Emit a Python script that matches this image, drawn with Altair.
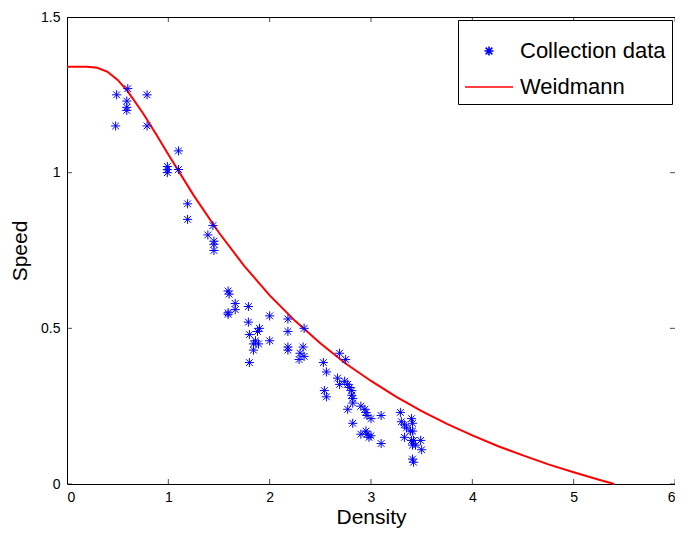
import altair as alt
import pandas as pd

# Collected measurements (density, speed)
density = [0.49, 0.60, 0.59, 0.59, 0.59, 0.79, 0.48, 0.79, 1.10, 0.99, 0.99, 0.99, 1.10, 1.19, 1.19,
           1.44, 1.39, 1.45, 1.45, 1.45, 1.59, 1.60, 1.66, 1.66, 1.59, 1.59, 1.79, 1.79, 2.00, 1.80,
           1.88, 1.90, 1.86, 1.89, 1.84, 1.84, 2.00, 1.80, 2.18, 2.18, 2.34, 2.18, 2.18, 2.33, 2.30,
           2.34, 2.29, 2.53, 2.56, 2.69, 2.75, 2.54, 2.56, 2.67, 2.69, 2.74, 2.77, 2.79, 2.81, 2.81,
           2.82, 2.82, 2.77, 2.90, 2.94, 2.95, 2.96, 3.00, 3.10, 2.82, 2.90, 2.95, 2.96, 2.98, 3.00,
           3.10, 3.29, 3.30, 3.33, 3.35, 3.40, 3.41, 3.39, 3.41, 3.33, 3.40, 3.42, 3.44, 3.41, 3.49,
           3.50, 3.41, 3.42]
speed = [1.25, 1.27, 1.23, 1.21, 1.20, 1.25, 1.15, 1.15, 1.07, 1.02, 1.01, 1.00, 1.01, 0.90, 0.85,
         0.83, 0.80, 0.78, 0.77, 0.75, 0.62, 0.61, 0.58, 0.56, 0.55, 0.545, 0.57, 0.52, 0.54, 0.48,
         0.49, 0.50, 0.46, 0.45, 0.45, 0.43, 0.46, 0.39, 0.53, 0.49, 0.50, 0.44, 0.43, 0.44, 0.42,
         0.41, 0.40, 0.39, 0.36, 0.42, 0.40, 0.30, 0.28, 0.34, 0.32, 0.33, 0.32, 0.31, 0.30, 0.285,
         0.275, 0.26, 0.24, 0.25, 0.24, 0.23, 0.22, 0.21, 0.22, 0.195, 0.16, 0.17, 0.16, 0.15, 0.155,
         0.13, 0.23, 0.20, 0.19, 0.18, 0.21, 0.195, 0.17, 0.17, 0.15, 0.14, 0.14, 0.125, 0.125, 0.14,
         0.11, 0.08, 0.07]

# Weidmann curve
curve_density = [0, 0.2, 0.3, 0.4, 0.5, 0.6, 0.75, 0.875, 1.0, 1.25, 1.5, 1.75, 2.0, 2.25, 2.5,
                 2.75, 3.0, 3.25, 3.5, 3.75, 4.0, 4.25, 4.5, 4.75, 5.0, 5.25, 5.4]
curve_speed = [1.34, 1.34, 1.337, 1.324, 1.298, 1.261, 1.191, 1.126, 1.058, 0.927, 0.807, 0.700,
               0.606, 0.524, 0.452, 0.387, 0.331, 0.280, 0.234, 0.193, 0.156, 0.122, 0.092, 0.063,
               0.0375, 0.0135, 0.0]

series_names = ["Collection data", "Weidmann"]
x_ticks = [0, 1, 2, 3, 4, 5, 6]
y_ticks = [0, 0.5, 1.0, 1.5]

pts = pd.DataFrame({"density": density, "speed": speed, "series": series_names[0]})
crv = pd.DataFrame({"density": curve_density, "speed": curve_speed, "series": series_names[1]})
xt = pd.DataFrame({"t": x_ticks})
yt = pd.DataFrame({"t": y_ticks})

ASTER = ("M-0.19,0L0.19,0M0,-0.19L0,0.19M-0.14,-0.14L0.14,0.14M-0.14,0.14L0.14,-0.14")
LINE = "M-1,0L1,0"

xscale = alt.Scale(domain=[0, 6], nice=False)
yscale = alt.Scale(domain=[0, 1.5], nice=False)
color_scale = alt.Scale(domain=series_names, range=["#0000ff", "#ff0000"])
shape_scale = alt.Scale(domain=series_names, range=[ASTER, LINE])

legend = alt.Legend(title=None, orient="none", legendX=391, legendY=3)

x_axis = alt.Axis(values=x_ticks, title="Density", ticks=False, domain=False, grid=False,
                  labelPadding=6, titlePadding=2, format="~g")
y_axis = alt.Axis(values=y_ticks, title="Speed", ticks=False, domain=False, grid=False,
                  labelPadding=7, titlePadding=10, format="~g")

points = alt.Chart(pts).mark_point(filled=False, size=2304, strokeWidth=1, opacity=1).encode(
    x=alt.X("density:Q", scale=xscale, axis=x_axis),
    y=alt.Y("speed:Q", scale=yscale, axis=y_axis),
    color=alt.Color("series:N", scale=color_scale, legend=legend),
    shape=alt.Shape("series:N", scale=shape_scale, legend=legend),
)

line = alt.Chart(crv).mark_line(strokeWidth=2).encode(
    x=alt.X("density:Q", scale=xscale),
    y=alt.Y("speed:Q", scale=yscale),
    color=alt.Color("series:N", scale=color_scale, legend=legend),
)

bx = alt.Chart(xt).mark_tick(orient="vertical", size=10, thickness=1, color="black", clip=True)
by = alt.Chart(yt).mark_tick(orient="horizontal", size=10, thickness=1, color="black", clip=True)
ticks = [
    bx.encode(x=alt.X("t:Q", scale=xscale), y=alt.datum(0, scale=yscale)),
    bx.encode(x=alt.X("t:Q", scale=xscale), y=alt.datum(1.5, scale=yscale)),
    by.encode(y=alt.Y("t:Q", scale=yscale), x=alt.datum(0, scale=xscale)),
    by.encode(y=alt.Y("t:Q", scale=yscale), x=alt.datum(6, scale=xscale)),
]

chart = alt.layer(*ticks, line, points).properties(
    width=608, height=467,
    padding={"left": 59, "top": 9, "right": 0, "bottom": 46},
    autosize=alt.AutoSizeParams(type="none"),
).configure_view(
    stroke="black", strokeWidth=1
).configure_axis(
    labelFont="Liberation Sans", labelFontSize=14, labelColor="black",
    titleFont="Liberation Sans", titleFontSize=21, titleFontWeight="normal", titleColor="black",
).configure_legend(
    strokeColor="black", fillColor="white", padding=6, cornerRadius=0,
    labelFont="Liberation Sans", labelFontSize=22, labelColor="black",
    symbolSize=2304, symbolStrokeWidth=1.6, symbolOpacity=1,
    labelOffset=6, rowPadding=-12,
)

chart.save("out.html", embed_options={"renderer": "svg", "actions": False})
